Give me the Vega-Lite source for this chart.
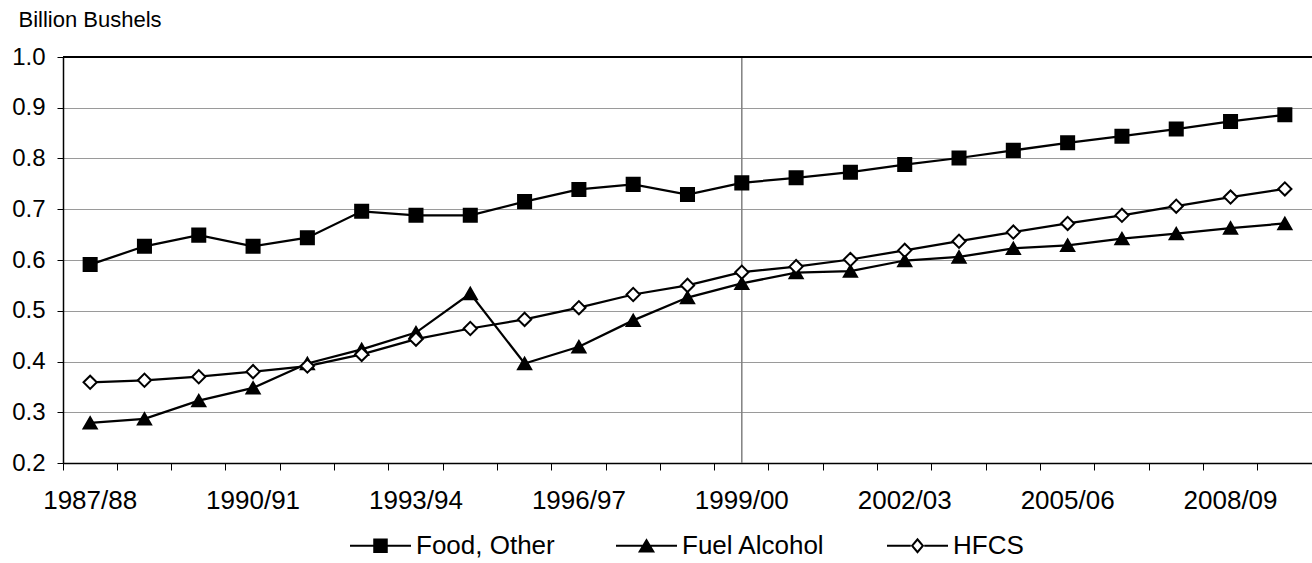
{
  "$schema": "https://vega.github.io/schema/vega-lite/v6.json",
  "width": 1249,
  "height": 406,
  "autosize": {"type": "none"},
  "padding": {"left": 63, "top": 57, "right": 0, "bottom": 100},
  "config": {
    "font": "Liberation Sans",
    "view": {"stroke": "#c8c8c8", "strokeWidth": 1},
    "axis": {"labelColor": "#000", "domainColor": "#000", "tickColor": "#000", "titleColor": "#000", "labelFont": "Liberation Sans", "titleFont": "Liberation Sans"},
    "legend": {"labelFont": "Liberation Sans", "labelColor": "#000"}
  },
  "data": {"values": [
    {"year": "1987/88", "series": "Food, Other", "value": 0.591},
    {"year": "1988/89", "series": "Food, Other", "value": 0.627},
    {"year": "1989/90", "series": "Food, Other", "value": 0.649},
    {"year": "1990/91", "series": "Food, Other", "value": 0.627},
    {"year": "1991/92", "series": "Food, Other", "value": 0.644},
    {"year": "1992/93", "series": "Food, Other", "value": 0.696},
    {"year": "1993/94", "series": "Food, Other", "value": 0.688},
    {"year": "1994/95", "series": "Food, Other", "value": 0.688},
    {"year": "1995/96", "series": "Food, Other", "value": 0.715},
    {"year": "1996/97", "series": "Food, Other", "value": 0.739},
    {"year": "1997/98", "series": "Food, Other", "value": 0.749},
    {"year": "1998/99", "series": "Food, Other", "value": 0.729},
    {"year": "1999/00", "series": "Food, Other", "value": 0.752},
    {"year": "2000/01", "series": "Food, Other", "value": 0.762},
    {"year": "2001/02", "series": "Food, Other", "value": 0.773},
    {"year": "2002/03", "series": "Food, Other", "value": 0.788},
    {"year": "2003/04", "series": "Food, Other", "value": 0.801},
    {"year": "2004/05", "series": "Food, Other", "value": 0.816},
    {"year": "2005/06", "series": "Food, Other", "value": 0.831},
    {"year": "2006/07", "series": "Food, Other", "value": 0.844},
    {"year": "2007/08", "series": "Food, Other", "value": 0.858},
    {"year": "2008/09", "series": "Food, Other", "value": 0.873},
    {"year": "2009/10", "series": "Food, Other", "value": 0.886},
    {"year": "1987/88", "series": "Fuel Alcohol", "value": 0.279},
    {"year": "1988/89", "series": "Fuel Alcohol", "value": 0.287},
    {"year": "1989/90", "series": "Fuel Alcohol", "value": 0.323},
    {"year": "1990/91", "series": "Fuel Alcohol", "value": 0.348},
    {"year": "1991/92", "series": "Fuel Alcohol", "value": 0.396},
    {"year": "1992/93", "series": "Fuel Alcohol", "value": 0.424},
    {"year": "1993/94", "series": "Fuel Alcohol", "value": 0.457},
    {"year": "1994/95", "series": "Fuel Alcohol", "value": 0.534},
    {"year": "1995/96", "series": "Fuel Alcohol", "value": 0.396},
    {"year": "1996/97", "series": "Fuel Alcohol", "value": 0.429},
    {"year": "1997/98", "series": "Fuel Alcohol", "value": 0.481},
    {"year": "1998/99", "series": "Fuel Alcohol", "value": 0.526},
    {"year": "1999/00", "series": "Fuel Alcohol", "value": 0.554},
    {"year": "2000/01", "series": "Fuel Alcohol", "value": 0.575},
    {"year": "2001/02", "series": "Fuel Alcohol", "value": 0.578},
    {"year": "2002/03", "series": "Fuel Alcohol", "value": 0.599},
    {"year": "2003/04", "series": "Fuel Alcohol", "value": 0.606},
    {"year": "2004/05", "series": "Fuel Alcohol", "value": 0.623},
    {"year": "2005/06", "series": "Fuel Alcohol", "value": 0.629},
    {"year": "2006/07", "series": "Fuel Alcohol", "value": 0.642},
    {"year": "2007/08", "series": "Fuel Alcohol", "value": 0.652},
    {"year": "2008/09", "series": "Fuel Alcohol", "value": 0.663},
    {"year": "2009/10", "series": "Fuel Alcohol", "value": 0.672},
    {"year": "1987/88", "series": "HFCS", "value": 0.359},
    {"year": "1988/89", "series": "HFCS", "value": 0.363},
    {"year": "1989/90", "series": "HFCS", "value": 0.370},
    {"year": "1990/91", "series": "HFCS", "value": 0.380},
    {"year": "1991/92", "series": "HFCS", "value": 0.391},
    {"year": "1992/93", "series": "HFCS", "value": 0.414},
    {"year": "1993/94", "series": "HFCS", "value": 0.444},
    {"year": "1994/95", "series": "HFCS", "value": 0.465},
    {"year": "1995/96", "series": "HFCS", "value": 0.483},
    {"year": "1996/97", "series": "HFCS", "value": 0.506},
    {"year": "1997/98", "series": "HFCS", "value": 0.532},
    {"year": "1998/99", "series": "HFCS", "value": 0.550},
    {"year": "1999/00", "series": "HFCS", "value": 0.576},
    {"year": "2000/01", "series": "HFCS", "value": 0.587},
    {"year": "2001/02", "series": "HFCS", "value": 0.601},
    {"year": "2002/03", "series": "HFCS", "value": 0.619},
    {"year": "2003/04", "series": "HFCS", "value": 0.637},
    {"year": "2004/05", "series": "HFCS", "value": 0.655},
    {"year": "2005/06", "series": "HFCS", "value": 0.672},
    {"year": "2006/07", "series": "HFCS", "value": 0.688},
    {"year": "2007/08", "series": "HFCS", "value": 0.706},
    {"year": "2008/09", "series": "HFCS", "value": 0.724},
    {"year": "2009/10", "series": "HFCS", "value": 0.740}
  ]},
  "resolve": {"scale": {"shape": "independent", "fill": "independent", "size": "independent"}, "axis": {"x": "independent"}},
  "layer": [
    {
      "data": {"values": [{"year": "1999/00"}]},
      "mark": {"type": "rule", "color": "#808080", "strokeWidth": 1.5},
      "encoding": {
        "x": {"field": "year", "type": "ordinal", "scale": {"type": "band", "paddingInner": 0, "paddingOuter": 0, "domain": ["1987/88","1988/89","1989/90","1990/91","1991/92","1992/93","1993/94","1994/95","1995/96","1996/97","1997/98","1998/99","1999/00","2000/01","2001/02","2002/03","2003/04","2004/05","2005/06","2006/07","2007/08","2008/09","2009/10"]}, "axis": null}
      }
    },
    {
      "mark": {"type": "line", "color": "#000", "strokeWidth": 2.25},
      "encoding": {
        "x": {"field": "year", "type": "ordinal", "scale": {"type": "band", "paddingInner": 0, "paddingOuter": 0, "domain": ["1987/88","1988/89","1989/90","1990/91","1991/92","1992/93","1993/94","1994/95","1995/96","1996/97","1997/98","1998/99","1999/00","2000/01","2001/02","2002/03","2003/04","2004/05","2005/06","2006/07","2007/08","2008/09","2009/10"]},
          "axis": {"orient": "bottom", "labels": false, "bandPosition": 0, "tickSize": 7, "tickWidth": 1, "domainWidth": 1.5, "grid": false, "title": null}},
        "y": {"field": "value", "type": "quantitative", "scale": {"domain": [0.2, 1.0], "nice": false, "zero": false},
          "axis": {"values": [0.2, 0.3, 0.4, 0.5, 0.6, 0.7, 0.8, 0.9, 1.0], "format": ".1f", "labelFontSize": 24, "labelPadding": 12, "tickSize": 6, "tickWidth": 1, "domainWidth": 1.5, "grid": true,
            "gridColor": {"condition": {"test": "datum.value >= 0.99", "value": "#000"}, "value": "#9a9a9a"}, "gridWidth": 1,
            "title": "Billion Bushels", "titleAngle": 0, "titleAlign": "left", "titleBaseline": "alphabetic", "titleX": -45, "titleY": -31, "titleFontSize": 22, "titleFontWeight": "normal"}},
        "detail": {"field": "series", "type": "nominal"}
      }
    },
    {
      "mark": {"type": "point", "filled": true, "stroke": "#000", "strokeWidth": 2, "opacity": 1},
      "encoding": {
        "x": {"field": "year", "type": "ordinal", "scale": {"type": "band", "paddingInner": 0, "paddingOuter": 0, "domain": ["1987/88","1988/89","1989/90","1990/91","1991/92","1992/93","1993/94","1994/95","1995/96","1996/97","1997/98","1998/99","1999/00","2000/01","2001/02","2002/03","2003/04","2004/05","2005/06","2006/07","2007/08","2008/09","2009/10"]},
          "axis": {"orient": "bottom", "ticks": false, "domain": false, "grid": false, "values": ["1987/88","1990/91","1993/94","1996/97","1999/00","2002/03","2005/06","2008/09"], "labelFontSize": 26, "labelPadding": 24, "labelAngle": 0, "title": null}},
        "y": {"field": "value", "type": "quantitative", "scale": {"domain": [0.2, 1.0], "nice": false, "zero": false},
          "axis": {"values": [0.2, 0.3, 0.4, 0.5, 0.6, 0.7, 0.8, 0.9, 1.0], "format": ".1f", "labelFontSize": 24, "labelPadding": 12, "tickSize": 6, "tickWidth": 1, "domainWidth": 1.5, "grid": true,
            "gridColor": {"condition": {"test": "datum.value >= 0.99", "value": "#000"}, "value": "#9a9a9a"}, "gridWidth": 1,
            "title": "Billion Bushels", "titleAngle": 0, "titleAlign": "left", "titleBaseline": "alphabetic", "titleX": -45, "titleY": -31, "titleFontSize": 22, "titleFontWeight": "normal"}},
        "shape": {"field": "series", "type": "nominal", "scale": {"domain": ["Food, Other", "Fuel Alcohol", "HFCS"], "range": ["square", "triangle-up", "diamond"]}, "legend": null},
        "fill": {"field": "series", "type": "nominal", "scale": {"domain": ["Food, Other", "Fuel Alcohol", "HFCS"], "range": ["#000", "#000", "#fff"]}, "legend": null},
        "size": {"field": "series", "type": "nominal", "scale": {"domain": ["Food, Other", "Fuel Alcohol", "HFCS"], "range": [170, 175, 105]}, "legend": null}
      }
    },
    {
      "mark": {"type": "point", "filled": true, "color": "#000", "strokeWidth": 0, "opacity": 0},
      "encoding": {
        "x": {"field": "year", "type": "ordinal", "scale": {"type": "band", "paddingInner": 0, "paddingOuter": 0, "domain": ["1987/88","1988/89","1989/90","1990/91","1991/92","1992/93","1993/94","1994/95","1995/96","1996/97","1997/98","1998/99","1999/00","2000/01","2001/02","2002/03","2003/04","2004/05","2005/06","2006/07","2007/08","2008/09","2009/10"]}, "axis": null},
        "y": {"field": "value", "type": "quantitative", "scale": {"domain": [0.2, 1.0], "nice": false, "zero": false},
          "axis": {"values": [0.2, 0.3, 0.4, 0.5, 0.6, 0.7, 0.8, 0.9, 1.0], "format": ".1f", "labelFontSize": 24, "labelPadding": 12, "tickSize": 6, "tickWidth": 1, "domainWidth": 1.5, "grid": true,
            "gridColor": {"condition": {"test": "datum.value >= 0.99", "value": "#000"}, "value": "#9a9a9a"}, "gridWidth": 1,
            "title": "Billion Bushels", "titleAngle": 0, "titleAlign": "left", "titleBaseline": "alphabetic", "titleX": -45, "titleY": -31, "titleFontSize": 22, "titleFontWeight": "normal"}},
        "shape": {"field": "series", "type": "nominal",
          "scale": {"domain": ["Food, Other", "Fuel Alcohol", "HFCS"], "range": [
            "M-1,-0.033H1V0.033H-1ZM-0.238,-0.238H0.238V0.238H-0.238Z",
            "M-1,-0.033H1V0.033H-1ZM0,-0.25L0.28,0.22H-0.28Z",
            "M-1,-0.033H-0.22V0.033H-1ZM0.22,-0.033H1V0.033H0.22ZM0,-0.26L0.22,0L0,0.26L-0.22,0ZM0,-0.158L-0.1335,0L0,0.158L0.1335,0Z"]},
          "legend": {"orient": "none", "legendX": 287, "legendY": 458, "direction": "horizontal", "title": null, "symbolSize": 3721, "symbolStrokeWidth": 0, "symbolFillColor": "#000", "symbolOpacity": 1, "labelFontSize": 26, "labelOffset": 5, "columnPadding": 61, "padding": 0, "labelLimit": 300}}
      }
    },
    {
      "mark": {"type": "rule", "color": "#000", "strokeWidth": 1.5},
      "encoding": {
        "y": {"datum": 1.0, "type": "quantitative", "scale": {"domain": [0.2, 1.0], "nice": false, "zero": false},
          "axis": {"values": [0.2, 0.3, 0.4, 0.5, 0.6, 0.7, 0.8, 0.9, 1.0], "format": ".1f", "labelFontSize": 24, "labelPadding": 12, "tickSize": 6, "tickWidth": 1, "domainWidth": 1.5, "grid": true,
            "gridColor": {"condition": {"test": "datum.value >= 0.99", "value": "#000"}, "value": "#9a9a9a"}, "gridWidth": 1,
            "title": "Billion Bushels", "titleAngle": 0, "titleAlign": "left", "titleBaseline": "alphabetic", "titleX": -45, "titleY": -31, "titleFontSize": 22, "titleFontWeight": "normal"}}
      }
    }
  ]
}
